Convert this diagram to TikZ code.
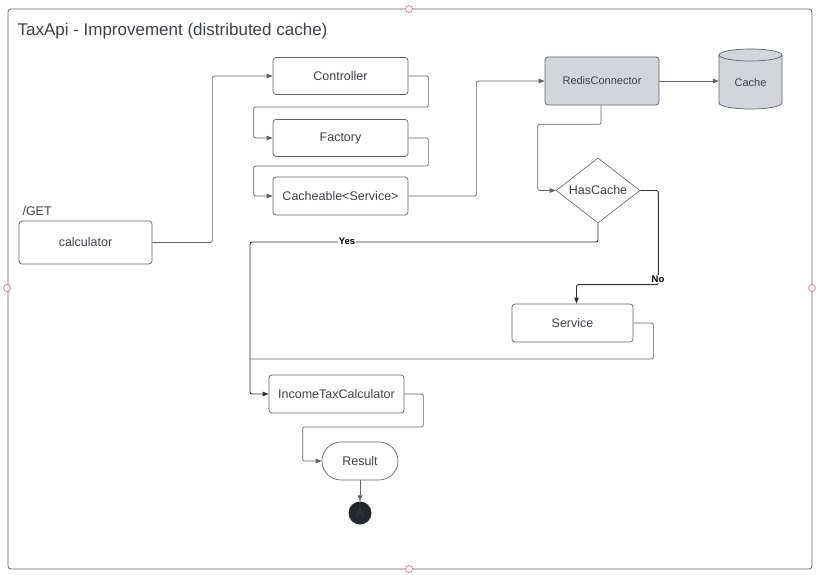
\documentclass[tikz,border=0pt]{standalone}
\usepackage{fontspec}
\setmainfont{Liberation Sans}
\usetikzlibrary{shapes.geometric,arrows.meta,calc}
\definecolor{ink}{HTML}{3C4048}
\definecolor{wire}{HTML}{5E6269}
\definecolor{darkwire}{HTML}{2E3136}
\definecolor{steel}{HTML}{D1D5DC}
\definecolor{handle}{HTML}{E0707E}
\definecolor{stopfill}{HTML}{22272E}
\tikzset{
  box/.style={draw=wire, line width=0.7pt, rounded corners=3pt, text=ink,
    font=\fontsize{12.5}{14}\selectfont, inner sep=0pt},
  greybox/.style={box, fill=steel, font=\fontsize{11}{13}\selectfont},
  link/.style={draw=wire, line width=0.7pt, rounded corners=2pt,
    -{Triangle[length=6pt,width=4.5pt]}},
  darklink/.style={link, draw=darkwire, line width=0.9pt},
  plain/.style={draw=wire, line width=0.7pt, rounded corners=2pt},
  tag/.style={fill=white, inner sep=1pt, text=black, font=\bfseries\fontsize{9.5}{11}\selectfont},
  handlept/.style={circle, draw=handle, fill=white, line width=0.7pt, minimum size=7pt, inner sep=0pt},
}
\begin{document}
\begin{tikzpicture}[x=1pt, y=-1pt]
\useasboundingbox (0,0) rectangle (825,575);

% outer frame and its side handles
\draw[draw=wire, line width=0.8pt, rounded corners=3pt] (8,9) rectangle (812,569);
\node[handlept] (hTop) at (409,9) {};
\node[handlept] (hBot) at (409,569) {};
\node[handlept] (hLeft) at (7,288) {};
\node[handlept] (hRight) at (812,288) {};

\node[anchor=west, text=ink, font=\fontsize{17}{20}\selectfont] (title) at (14,31) {TaxApi - Improvement (distributed cache)};

% request entry
\node[anchor=west, text=ink, font=\fontsize{12.5}{14}\selectfont] (get) at (19,211) {/GET};
\node[box, minimum width=133pt, minimum height=43pt] (calc) at (85.5,242.5) {calculator};

% pipeline
\node[box, minimum width=135pt, minimum height=37pt] (ctrl) at (340.5,76) {Controller};
\node[box, minimum width=135pt, minimum height=37pt] (fac) at (340.5,138) {Factory};
\node[box, minimum width=135pt, minimum height=38pt] (cach) at (340.5,196) {Cacheable<Service>};

\node[greybox, minimum width=114pt, minimum height=48pt] (redis) at (602,81) {RedisConnector};

% cache store: a drum drawn by hand around an outline-free node
\fill[steel] (719,55) -- (719,103) arc[start angle=180, end angle=360, x radius=31.5pt, y radius=6pt]
  -- (782,55) arc[start angle=0, end angle=180, x radius=31.5pt, y radius=6pt] -- cycle;
\draw[wire, line width=0.7pt] (719,55) -- (719,103) arc[start angle=180, end angle=360, x radius=31.5pt, y radius=6pt]
  -- (782,55);
\draw[wire, line width=0.7pt] (750.5,55) ellipse[x radius=31.5pt, y radius=6pt];
\node[minimum width=63pt, minimum height=60pt, inner sep=0pt, text=ink,
      font=\fontsize{11}{13}\selectfont] (cache) at (750.5,83) {Cache};

\node[diamond, draw=wire, line width=0.6pt, aspect=1.3, inner sep=0pt,
      minimum width=84pt, minimum height=65pt, text=ink,
      font=\fontsize{12.5}{14}\selectfont] (has) at (598,190.5) {HasCache};

\node[box, minimum width=121pt, minimum height=38pt] (svc) at (572.5,323) {Service};
\node[box, minimum width=135pt, minimum height=38pt] (itc) at (336.5,394) {IncomeTaxCalculator};
\node[box, rounded corners=19pt, minimum width=76pt, minimum height=38pt] (res) at (360,461) {Result};
\node[circle, fill=stopfill, minimum size=23pt, inner sep=0pt, text=ink,
      font=\fontsize{11}{13}\selectfont] (stop) at (360,513) {A};

% connectors
\draw[link] (calc.east) -- ++(60,0) |- (ctrl.west);
\draw[link] (ctrl.east) -- ++(20,0) -- ++(0,31) -| ($(fac.west)+(-19,0)$) -- (fac.west);
\draw[link] (fac.east) -- ++(20,0) -- ++(0,28) -| ($(cach.west)+(-19,0)$) -- (cach.west);
\draw[link] (cach.east) -- ++(68,0) |- (redis.west);
\draw[link] (redis.east) -- (redis.east -| cache.west);
\draw[link] ($(redis.south)+(-1,0)$) -- ++(0,19) -| ($(has.west)+(-18,0)$) -- (has.west);

\coordinate (yesTurn) at (250,242);
\draw[darklink] (has.south) |- (yesTurn) |- (itc.west);
\node[tag] (yes) at (347,241) {Yes};

\draw[darklink] (has.east) -- ++(18,0) |- ($(svc.north)+(4,-19)$) -- ($(svc.north)+(4,0)$);
\node[tag] (no) at (658,279) {No};

\draw[plain] (svc.east) -- ++(20,0) |- (250,359);
\draw[link] (itc.east) -- ++(19,0) -- ++(0,33) -| ($(res.west)+(-19,0)$) -- (res.west);
\draw[link] (res.south) -- (stop.north);
\end{tikzpicture}
\end{document}
